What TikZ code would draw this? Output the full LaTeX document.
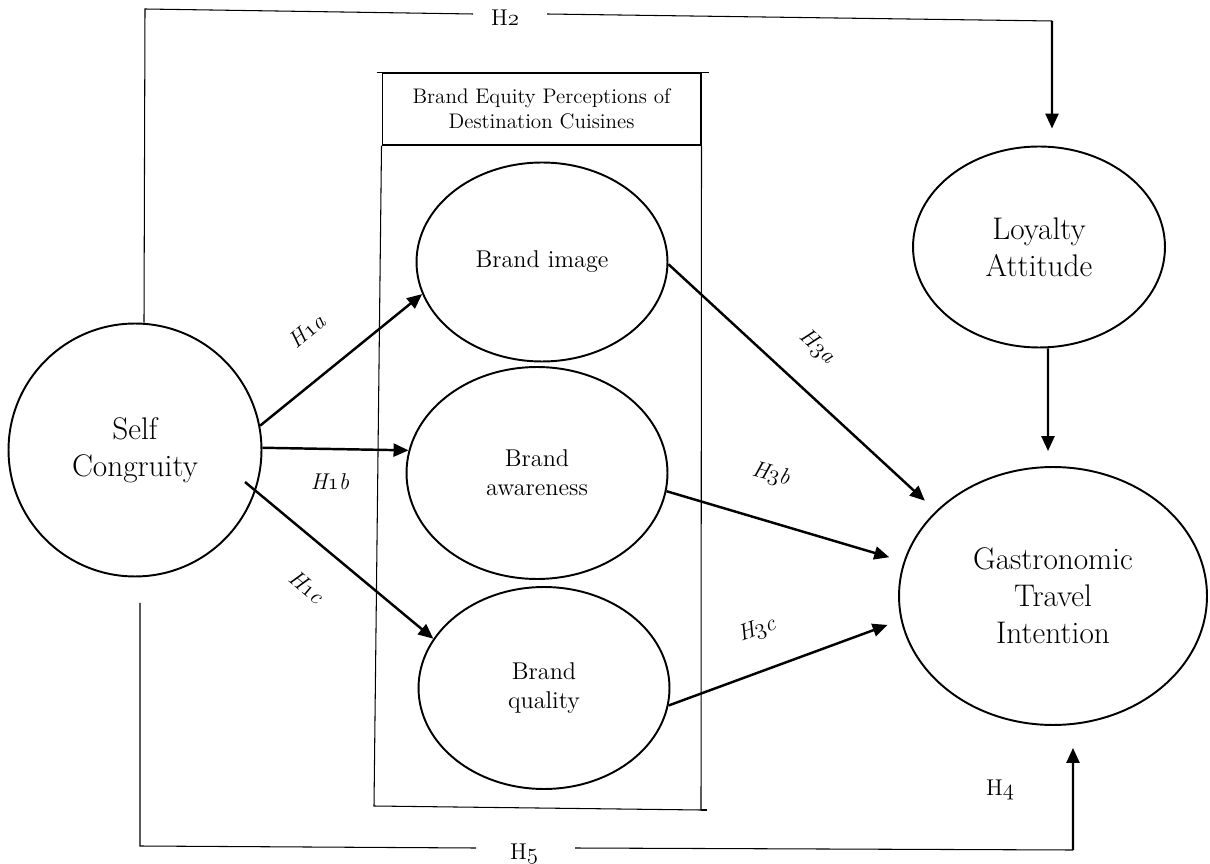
\documentclass[tikz,border=0pt]{standalone}
\usepackage{fix-cm}
\usepackage{tikz}
\usetikzlibrary{calc}
\usetikzlibrary{shapes.geometric,arrows.meta}
% old style figures, as in the labels of the model
\newcommand{\osn}[1]{{\fontencoding{OML}\fontfamily{cmm}\fontseries{m}\fontshape{it}\selectfont #1}}
\tikzset{
    latent/.style={ellipse, draw, line width=1.1pt, inner sep=0pt, align=center},
    bigtxt/.style={font=\fontsize{17.8}{21}\selectfont},
    midtxt/.style={font=\fontsize{13.8}{16.4}\selectfont},
    titletxt/.style={font=\fontsize{12}{14.2}\selectfont},
    hyp/.style={font=\fontsize{13}{15}\selectfont\itshape, inner sep=1pt},
    hup/.style={font=\fontsize{13}{15}\selectfont, inner sep=1pt},
    causal/.style={-{Triangle[length=0.3cm,width=0.26cm]}, line width=1.4pt},
    thinline/.style={line width=0.6pt}
}

\begin{document}
\begin{tikzpicture}[x=0.02cm,y=-0.02cm]
\useasboundingbox (0,0) rectangle (1210,864);

%%% CONSTRUCTS %%%
\node[latent, circle, bigtxt, minimum size=5.06cm] (sc) at (135,450) {Self\\Congruity};
\node[latent, midtxt, minimum width=5.02cm, minimum height=3.98cm] (bi) at (542,262) {Brand image};
\node[latent, midtxt, minimum width=5.22cm, minimum height=4.24cm] (ba) at (537,473) {Brand\\awareness};
\node[latent, midtxt, minimum width=5.02cm, minimum height=4.04cm] (bq) at (544,688) {Brand\\quality};
\node[latent, bigtxt, minimum width=5.04cm, minimum height=4.02cm] (la) at (1039,247) {Loyalty\\Attitude};
\node[latent, bigtxt, minimum width=6.16cm, minimum height=5.16cm] (gti) at (1053,596) {Gastronomic\\Travel\\Intention};

%%% BRAND EQUITY BOX %%%
\node[draw, thinline, titletxt, align=center, minimum width=6.38cm, minimum height=1.44cm] (beq) at (541.5,109)
  {Brand Equity Perceptions of\\Destination Cuisines};
\coordinate (boxsw) at (374,806); % bottom left corner
\coordinate (boxse) at (701,810); % bottom right corner
\draw[thinline] ([xshift=-0.1cm]beq.north west) -- ([xshift=0.14cm]beq.north east);
\draw[thinline] (beq.south west) -- (boxsw) -- (boxse) -- (beq.south east);
\draw[thinline] (boxse) -- ++(6,0);

%%% HYPOTHESES H1 %%%
\coordinate (h1cstart) at (245,482); % starts inside the circle
\draw[causal] (sc.11) -- (bi.195);
\draw[causal] (sc.1) -- (ba.170);
\draw[causal] (h1cstart) -- (bq.156);
\node[hyp, rotate=40] (h1a) at (307,331) {H\osn{1}a};
\node[hyp] (h1b) at (330,482) {H\osn{1}b};
\node[hyp, rotate=-40] (h1c) at (307,587) {H\osn{1}c};

%%% HYPOTHESES H3 %%%
\draw[causal, shorten >=0.3cm] (bi.-1) -- (gti.144);
\draw[causal, shorten >=0.3cm] (ba.-8) -- (gti.167);
\draw[causal, shorten >=0.28cm] (bq.-8) -- (gti.189);
\node[hyp, rotate=-43] (h3a) at (817,347) {H\osn{3}a};
\node[hyp, rotate=-15] (h3b) at (771,475) {H\osn{3}b};
\node[hyp, rotate=20] (h3c) at (757,630) {H\osn{3}c};

%%% LOYALTY TO INTENTION %%%
\draw[causal] ([xshift=0.18cm]la.south) -- ([xshift=-0.1cm,yshift=0.3cm]gti.north);

%%% H2 (top) %%%
\coordinate (h2a) at (145,9);
\coordinate (h2b) at (473,14);
\coordinate (h2c) at (547,14);
\coordinate (h2d) at (1052,21);
\draw[thinline] ([xshift=0.18cm]sc.north) -- (h2a) -- (h2b);
\draw[thinline] (h2c) -- (h2d);
\draw[causal] (h2d) -- ([xshift=0.26cm,yshift=0.34cm]la.north);
\node[hup] (h2) at (505,18) {H\osn{2}};

%%% H5 and H4 (bottom) %%%
\coordinate (h5b) at (140,846);
\coordinate (h5c) at (476,848);
\coordinate (h5d) at (575,848);
\coordinate (h5e) at (1073,850);
\draw[thinline] ([xshift=0.1cm,yshift=-0.51cm]sc.south) -- (h5b) -- (h5c);
\draw[thinline] (h5d) -- (h5e);
\draw[causal] (h5e) -- ([xshift=0.4cm,yshift=-0.44cm]gti.south);
\node[hup] (h5) at (524,854) {H\osn{5}};
\node[hup] (h4) at (1000,790) {H\osn{4}};
\end{tikzpicture}
\end{document}
